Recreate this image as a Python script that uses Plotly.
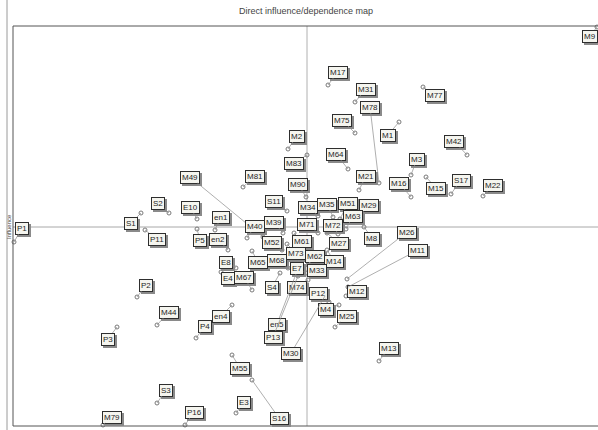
import plotly.graph_objects as go

# Variables on the direct influence / dependence plane
names = ["M9", "M17", "M31", "M78", "M77", "M75", "M1", "M2", "M42", "M83",
         "M64", "M3", "M21", "M81", "M16", "M15", "S17", "M22", "M49", "M90",
         "S2", "S1", "E10", "S11", "M34", "M35", "M51", "M29", "M63", "en1",
         "en2", "P1", "P11", "P5", "M40", "M39", "M71", "M72", "M8", "M27",
         "M61", "M52", "E8", "E4", "M67", "M65", "M68", "M73", "M62", "M14",
         "E7", "M33", "S4", "M74", "P12", "M12", "M26", "M11", "M4", "M25",
         "en5", "P13", "M30", "M44", "en4", "P4", "P2", "P3", "M13", "M55",
         "S16", "E3", "S3", "M79", "P16"]

dependence = [584, 315, 342, 366, 410, 342, 386, 275, 454, 294,
              335, 398, 346, 230, 398, 413, 438, 470, 250, 293,
              156, 128, 184, 274, 305, 320, 327, 348, 333, 202,
              215, 1, 132, 184, 234, 270, 305, 325, 351, 314,
              281, 269, 223, 208, 239, 239, 275, 274, 295, 314,
              293, 296, 267, 295, 316, 333, 334, 335, 326, 322,
              283, 285, 312, 144, 219, 183, 124, 104, 366, 219,
              239, 223, 144, 90, 172]

influence = [399, 341, 324, 243, 339, 293, 304, 277, 271, 271,
             257, 251, 236, 239, 229, 249, 232, 230, 189, 229,
             213, 213, 207, 215, 210, 209, 207, 212, 197, 196,
             176, 184, 196, 197, 188, 193, 193, 192, 199, 193,
             193, 176, 158, 154, 136, 175, 158, 182, 161, 176,
             153, 164, 153, 146, 124, 130, 147, 139, 121, 99,
             152, 150, 130, 101, 121, 88, 129, 99, 65, 71,
             46, 13, 23, 1, 1]

# Label placement (screen-pixel offset of each tag from its point)
label_dx = [-7, 10, 11, -9, 12, -13, -11, 9, -13, -13,
            -12, 6, 7, 12, -12, 10, 10, 10, -73, -8,
            -11, -10, -7, -13, -10, -6, 8, 8, 7, 6,
            -10, 8, 12, 3, 8, -9, -11, -5, 8, 12,
            8, -10, -10, 7, -8, 6, -11, 9, 7, 7,
            -9, 8, -8, -11, -11, 11, 60, 70, -13, 12,
            -19, -25, -34, 12, -11, 9, 9, -9, 10, 8,
            27, 8, 9, 9, 9]
label_dy = [9, -13, -13, -76, 8, -13, 13, -13, -14, 8,
            -15, -16, -14, -11, -14, 11, -14, -11, -60, -13,
            -10, 10, -12, -10, -9, -13, -16, -9, -13, -13,
            -11, -14, 9, 11, -12, -11, -9, -9, 11, 10,
            8, -8, -6, 6, -13, 11, -8, 9, -9, 11,
            -5, 8, 14, 7, -9, -5, -47, -37, 4, -11,
            50, 61, 57, -13, 11, -12, -12, 12, -13, 13,
            38, -11, -13, -8, -13]

X_MID, Y_MID = 294, 199
X_MAX, Y_MAX = 585, 400

tag_font = dict(family="Liberation Sans Narrow, Liberation Sans, Arial Narrow, sans-serif",
                size=8, color="#1e1e1e")

fig = go.Figure()
fig.add_trace(go.Scatter(
    x=dependence, y=influence, mode="markers",
    marker=dict(symbol="circle-open", size=4, color="#7a7a7a", line=dict(width=1)),
    cliponaxis=False, hoverinfo="text", text=names, showlegend=False))

annotations = []
# drop shadows first, tags on top
for n, x, y, dx, dy in zip(names, dependence, influence, label_dx, label_dy):
    annotations.append(dict(
        x=x, y=y, xref="x", yref="y", ax=dx + 2, ay=dy + 2, text=n,
        showarrow=True, arrowcolor="rgba(0,0,0,0)", arrowhead=0,
        font=dict(tag_font, color="#8a8a8a"), bgcolor="#8a8a8a",
        bordercolor="#8a8a8a", borderwidth=1, borderpad=1))
for n, x, y, dx, dy in zip(names, dependence, influence, label_dx, label_dy):
    annotations.append(dict(
        x=x, y=y, xref="x", yref="y", ax=dx, ay=dy, text=n,
        showarrow=True, arrowcolor="#8c8c8c", arrowhead=0, arrowwidth=0.7,
        standoff=0, font=tag_font, bgcolor="#f5f5ef",
        bordercolor="#2e2e2e", borderwidth=1, borderpad=1))

annotations.append(dict(
    text="Direct influence/dependence map", xref="paper", yref="paper",
    x=0.5, y=1.0, yshift=15, xanchor="center", yanchor="middle", showarrow=False,
    font=dict(family="Liberation Sans Narrow, Liberation Sans, sans-serif",
              size=9, color="#444444")))
annotations.append(dict(
    text="Influence", xref="paper", yref="y", x=0, y=Y_MID, xshift=-4,
    textangle=-90, showarrow=False, xanchor="center", yanchor="middle",
    font=dict(family="Liberation Sans, sans-serif", size=6, color="#444444")))

line_dark = dict(color="#555555", width=1)
shapes = [
    # quadrant cross-hair
    dict(type="line", xref="x", yref="y", x0=X_MID, x1=X_MID, y0=0, y1=Y_MAX,
         line=dict(color="#b0b0b0", width=1), layer="below"),
    dict(type="line", xref="x", yref="y", x0=0, x1=X_MAX, y0=Y_MID, y1=Y_MID,
         line=dict(color="#a8a8a8", width=1), layer="below"),
    # frame
    dict(type="line", xref="paper", yref="paper", x0=0, x1=0, y0=0, y1=1, line=line_dark),
    dict(type="line", xref="paper", yref="paper", x0=0, x1=1, y0=1, y1=1, line=line_dark),
    dict(type="line", xref="paper", yref="paper", x0=0, x1=1, y0=0, y1=0, line=line_dark),
    dict(type="line", xref="paper", yref="paper", x0=-6 / X_MAX, x1=-6 / X_MAX,
         y0=-0.01, y1=1.065, line=dict(color="#9a9a9a", width=1)),
]

fig.update_layout(
    width=598, height=430,
    margin=dict(l=13, r=0, t=26, b=4),
    paper_bgcolor="white", plot_bgcolor="white",
    xaxis=dict(range=[0, X_MAX], visible=False, fixedrange=True),
    yaxis=dict(range=[0, Y_MAX], visible=False, fixedrange=True),
    annotations=annotations, shapes=shapes,
)

fig.write_html("out.html")
